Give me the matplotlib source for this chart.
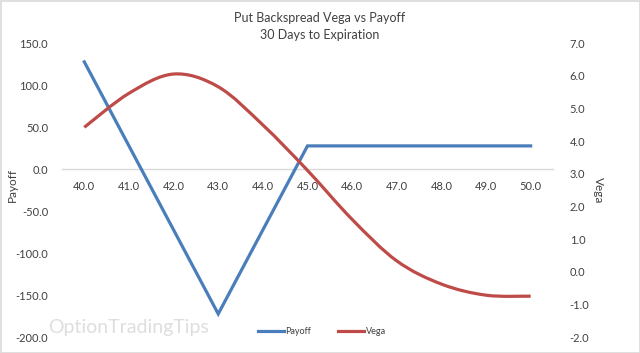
import numpy as np
import matplotlib
matplotlib.use("Agg")
import matplotlib.pyplot as plt
from matplotlib.path import Path
from matplotlib.patches import PathPatch, Rectangle
from matplotlib.lines import Line2D

strikes = [40, 41, 42, 43, 44, 45, 46, 47, 48, 49, 50]
payoff = [127.5, 27.5, -72.5, -172.5, -72.5, 27.5, 27.5, 27.5, 27.5, 27.5, 27.5]
vega = [4.42, 5.46, 6.05, 5.66, 4.49, 3.1, 1.6, 0.33, -0.38, -0.72, -0.75]
xlabels = ["40.0", "41.0", "42.0", "43.0", "44.0", "45.0", "46.0", "47.0", "48.0", "49.0", "50.0"]
left_ticks = [150, 100, 50, 0, -50, -100, -150, -200]
right_ticks = [7, 6, 5, 4, 3, 2, 1, 0, -1, -2]

blue = "#4A7EBB"
red = "#BE4B48"
txt = "#404040"
font = "Lato"
plt.rcParams["font.family"] = [font, "DejaVu Sans"]

fig = plt.figure(figsize=(6.4, 3.53), dpi=100)
fig.patches.append(Rectangle((0.5/640, 0.5/353), 1-1/640, 1-1/353, transform=fig.transFigure,
                             fill=False, edgecolor="#d9d9d9", lw=1.2))
ax = fig.add_axes([62/640, 16/353, 491/640, 294/353])
ax2 = ax.twinx()

ax.set_xlim(39.5, 50.5)
ax.set_ylim(-200, 150)
ax2.set_ylim(-2, 7)

ax.plot(strikes, payoff, color=blue, lw=2.3, solid_joinstyle="miter", zorder=3)

# smoothed line (Excel-style Bezier through the data points)
pts = np.column_stack([strikes, vega]).astype(float)
verts = [tuple(pts[0])]
codes = [Path.MOVETO]
t = 1/6
for i in range(len(pts)-1):
    p0 = pts[i-1] if i > 0 else pts[i]
    p1 = pts[i]
    p2 = pts[i+1]
    p3 = pts[i+2] if i+2 < len(pts) else pts[i+1]
    c1 = p1 + (p2 - p0) * t
    c2 = p2 - (p3 - p1) * t
    verts += [tuple(c1), tuple(c2), tuple(p2)]
    codes += [Path.CURVE4]*3
ax2.add_patch(PathPatch(Path(verts, codes), fill=False, edgecolor=red, lw=2.3, capstyle="butt"))

for s in ["top", "left", "right"]:
    ax.spines[s].set_visible(False)
    ax2.spines[s].set_visible(False)
ax2.spines["bottom"].set_visible(False)
ax.spines["bottom"].set_position(("data", 0))
ax.spines["bottom"].set_color("#d9d9d9")
ax.spines["bottom"].set_linewidth(1.0)

ax.set_xticks(strikes)
ax.set_xticklabels(xlabels)
ax.set_yticks(left_ticks)
ax.set_yticklabels([f"{v:.1f}" for v in left_ticks])
ax2.set_yticks(right_ticks)
ax2.set_yticklabels([f"{v:.1f}" for v in right_ticks])
ax.tick_params(axis="x", length=0, pad=9, labelsize=8, labelcolor=txt)
ax.tick_params(axis="y", length=0, pad=10, labelsize=8, labelcolor=txt)
ax2.tick_params(axis="y", length=0, pad=12, labelsize=8, labelcolor=txt)

fig.text(12/640, 1-185/353, "Payoff", rotation=90, ha="center", va="center", fontsize=8.5, color=txt)
fig.text(598/640, 1-190/353, "Vega", rotation=270, ha="center", va="center", fontsize=8.5, color=txt)

fig.text(0.5, 1-18/353, "Put Backspread Vega vs Payoff", ha="center", va="center", fontsize=9, color=txt)
fig.text(0.5, 1-35/353, "30 Days to Expiration", ha="center", va="center", fontsize=9, color=txt)

fig.text(48/640, 1-327/353, "OptionTradingTips", ha="left", va="center", fontsize=14,
         color="#d6d6d6", alpha=0.8)

handles = [Line2D([], [], color=blue, lw=2.3), Line2D([], [], color=red, lw=2.3)]
fig.legend(handles, ["Payoff", "Vega"], loc="center", bbox_to_anchor=(322/640, 1-332/353), ncol=2,
           frameon=False, fontsize=6.5, handlelength=2.8, handletextpad=0.2, columnspacing=3.0,
           labelcolor=txt)

fig.savefig("out.png", dpi=100)
